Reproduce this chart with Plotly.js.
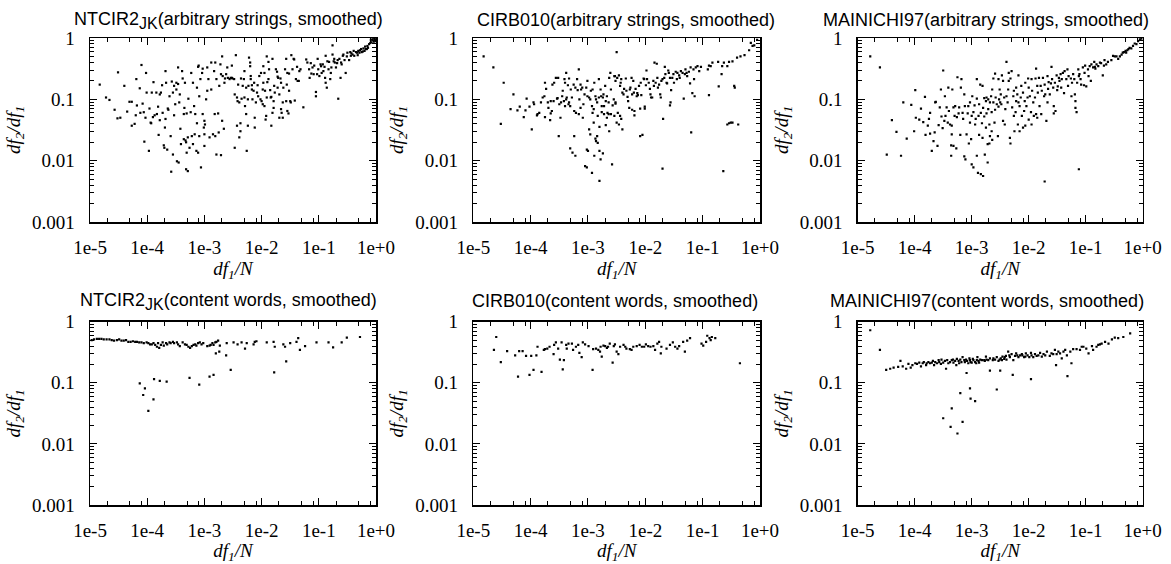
<!DOCTYPE html>
<html><head><meta charset="utf-8">
<script src="https://cdn.plot.ly/plotly-3.0.1.min.js"></script>
<style>html,body{margin:0;padding:0;background:#fff}#chart{width:1171px;height:564px}</style>
</head><body><div id="chart"></div>
<script>
// Values, stored as log10(df1/N) and log10(df2/df1).
const ntcirArbLogX = [
-4.83,-4.72,-4.66,-4.57,-4.51,-4.52,-4.47,-4.40,-4.35,-4.31,
-4.27,-4.27,-4.22,-4.19,-4.20,-4.18,-4.13,-4.12,-4.10,-4.08,
-4.06,-4.05,-4.03,-4.02,-4.01,-3.97,-3.96,-3.94,-3.93,-3.92,
-3.90,-3.89,-3.87,-3.84,-3.83,-3.81,-3.80,-3.78,-3.78,-3.76,
-3.74,-3.73,-3.71,-3.70,-3.69,-3.68,-3.68,-3.67,-3.65,-3.64,
-3.63,-3.61,-3.59,-3.58,-3.57,-3.55,-3.55,-3.53,-3.53,-3.51,
-3.49,-3.49,-3.48,-3.46,-3.46,-3.45,-3.44,-3.43,-3.42,-3.41,
-3.39,-3.38,-3.36,-3.36,-3.35,-3.34,-3.33,-3.32,-3.32,-3.31,
-3.31,-3.29,-3.29,-3.28,-3.26,-3.24,-3.23,-3.22,-3.20,-3.20,
-3.18,-3.17,-3.16,-3.14,-3.13,-3.13,-3.11,-3.11,-3.10,-3.09,
-3.09,-3.07,-3.06,-3.04,-3.03,-3.03,-3.01,-3.00,-3.00,-3.00,
-2.99,-2.97,-2.95,-2.95,-2.93,-2.91,-2.88,-2.88,-2.85,-2.83,
-2.82,-2.81,-2.81,-2.79,-2.79,-2.76,-2.75,-2.74,-2.72,-2.71,
-2.71,-2.69,-2.69,-2.68,-2.66,-2.65,-2.64,-2.62,-2.60,-2.59,
-2.56,-2.54,-2.52,
-2.52,-2.51,-2.48,-2.47,-2.45,-2.43,-2.43,-2.42,-2.41,-2.39,
-2.39,-2.37,-2.37,-2.36,-2.35,-2.47,-2.33,-2.31,-2.30,-2.30,
-2.29,-2.27,-2.27,-2.26,-2.24,-2.24,-2.23,-2.22,-2.20,-2.20,
-2.19,-2.19,-2.17,-2.17,-2.16,-2.14,-2.13,-2.12,-2.12,-2.10,
-2.08,-2.07,-2.06,-2.04,-2.02,-2.01,-2.00,-1.98,-1.98,-1.97,
-1.97,-1.95,-1.95,-1.94,-1.93,-1.92,-1.91,-1.91,-1.90,-1.88,
-1.88,-1.87,-1.85,-1.84,-1.83,-1.83,-1.81,-1.81,-1.79,-1.79,
-1.78,-1.77,-1.75,-1.73,-1.72,-1.72,-1.71,-1.69,-1.69,-1.67,
-1.66,-1.66,-1.65,-1.63,-1.63,-1.62,-1.59,-1.57,-1.57,-1.56,
-1.55,-1.55,-1.53,-1.52,-1.52,-1.50,-1.49,-1.48,-1.46,-1.44,
-1.43,-1.42,-1.40,-1.38,-1.37,-1.35,-1.34,-1.32,-1.27,-1.22,
-1.20,-1.17,-1.16,-1.14,-1.13,-1.11,-1.09,-1.08,-1.05,-1.05,
-1.03,-1.02,-1.01,-0.99,-0.97,-0.96,-0.95,-0.93,-0.92,-0.90,
-0.89,-0.88,-0.88,-0.86,-0.85,-0.83,-0.82,-0.80,-0.79,-0.78,
-0.76,-0.76,-0.74,-0.73,-0.72,-0.70,-0.68,-0.67,-0.66,-0.64,
-0.62,-0.61,-0.60,-0.58,-0.57,-0.55,-0.53,-0.51,-0.50,-0.47,
-0.45,-0.44,-0.43,-0.41,-0.39,-0.38,-0.35,-0.33,-0.32,-0.31,
-0.29,-0.28,-0.26,-0.25,-0.23,-0.22,-0.20,-0.19,-0.18,-0.16,
-0.15,-0.14,-0.12,-0.10,-0.09,-0.06,-0.03,-0.02,-0.01,-0.04,
-0.08];
const ntcirArbLogY = [
-0.76,-0.97,-1.01,-1.17,-0.56,-1.31,-1.30,-0.78,-1.20,-1.04,
-1.04,-1.43,-1.40,-0.67,-1.26,-1.10,-0.82,-1.22,-0.44,-1.07,
-1.21,-1.69,-1.30,-0.57,-0.89,-1.84,-1.15,-1.38,-1.39,-0.89,
-1.29,-0.72,-1.26,-0.89,-1.24,-1.12,-1.58,-0.92,-1.34,-0.89,
-0.77,-1.22,-1.75,-1.79,-1.46,-0.54,-1.32,-0.73,-1.82,-1.15,
-1.17,-0.95,-1.60,-2.18,-0.71,-0.89,-1.90,-1.26,-0.78,-1.08,
-0.84,-0.73,-2.01,-0.48,-0.75,-2.03,-1.05,-0.92,-1.48,-1.73,
-0.54,-0.66,-1.65,-1.24,-1.14,-0.73,-1.67,-1.70,-2.14,-1.23,
-1.87,-2.17,-1.62,-0.99,-1.79,-1.21,-0.57,-1.60,-1.73,-0.73,
-1.11,-1.57,-1.24,-1.84,-0.81,-1.39,-1.87,-0.47,-0.45,-0.95,
-1.60,-0.67,-2.11,-0.57,-0.50,-1.24,-1.46,-1.76,-1.57,-1.35,
-1.41,-1.00,-0.48,-0.86,-0.67,-1.62,-0.40,-0.84,-1.57,-0.54,
-1.24,-0.40,-1.60,-1.90,-0.67,-1.23,-1.54,-0.78,-0.43,-0.59,
-1.91,-0.30,-1.35,-0.62,-1.48,-0.73,-0.66,-0.59,-0.48,-0.65,
-0.67,-0.65,-0.65,
-0.45,-0.66,-0.67,-0.92,-0.28,-0.97,-1.43,-1.03,-0.76,-1.05,
-1.62,-1.39,-1.52,-0.66,-0.99,-1.79,-0.78,-0.67,-0.54,-0.97,
-1.11,-0.81,-1.24,-1.84,-1.43,-1.00,-0.78,-0.32,-0.40,-0.46,
-0.62,-0.67,-0.77,-0.84,-1.00,-0.86,-0.73,-1.30,-1.46,-1.05,
-0.89,-0.77,-0.95,-0.62,-1.00,-0.57,-1.03,-1.08,-0.84,-0.46,
-0.73,-0.57,-1.11,-0.86,-1.33,-1.27,-0.97,-0.30,-0.72,-0.67,
-0.39,-0.51,-0.85,-0.97,-0.96,-1.43,-0.34,-1.22,-1.03,-1.14,
-0.78,-0.89,-0.51,-0.55,-0.81,-0.63,-0.65,-0.92,-1.30,-0.66,
-0.73,-1.16,-1.22,-1.30,-1.05,-0.81,-0.51,-0.34,-1.03,-0.76,
-0.57,-1.19,-1.23,-0.58,-0.86,-1.03,-1.05,-0.28,-0.51,-0.34,
-0.35,-1.02,-0.67,-0.47,-0.70,-0.70,-0.54,-0.51,-1.13,-0.35,
-0.40,-0.51,-0.65,-0.41,-0.58,-0.48,-0.59,-0.45,-0.88,-0.95,
-0.59,-0.34,-0.51,-0.62,-0.43,-0.46,-0.57,-0.43,-0.54,-0.47,
-0.65,-0.73,-0.29,-0.81,-0.38,-0.51,-0.39,-0.67,-0.57,-0.48,
-0.12,-0.27,-0.38,-0.34,-0.40,-0.48,-0.41,-0.36,-0.99,-0.34,
-0.65,-0.40,-0.43,-0.29,-0.27,-0.36,-0.57,-0.30,-0.24,-0.36,
-0.23,-0.29,-0.25,-0.27,-0.21,-0.29,-0.23,-0.24,-0.28,-0.21,
-0.24,-0.20,-0.18,-0.23,-0.22,-0.17,-0.21,-0.14,-0.18,-0.18,
-0.13,-0.16,-0.10,-0.08,-0.03,-0.02,-0.01,-0.02,-0.05,-0.06,
-0.07];

const cirbArbLogX = [
-4.82,-4.65,-4.47,-4.30,-4.52,-4.35,-4.23,-4.19,-4.12,-4.09,
-4.07,-4.02,-3.98,-3.95,-3.94,-3.89,-3.88,-3.85,-3.82,-3.79,
-3.76,-3.75,-3.75,-3.73,-3.70,-3.69,-3.66,-3.65,-3.65,-3.63,
-3.62,-3.60,-3.59,-3.56,-3.54,-3.53,-3.52,-3.51,-3.50,-3.48,
-3.47,-3.45,-3.44,-3.42,-3.41,-3.40,-3.40,-3.38,-3.38,-3.37,
-3.35,-3.34,-3.33,-3.33,-3.31,-3.31,-3.30,-3.28,-3.27,-3.25,
-3.24,-3.24,-3.22,-3.22,-3.21,-3.19,-3.18,-3.16,-3.16,-3.15,
-3.13,-3.13,-3.12,-3.10,-3.09,-3.08,-3.06,-3.05,-3.03,-3.02,
-3.02,-3.01,-3.01,-3.00,-2.98,-2.98,-2.96,-2.96,-2.95,-2.93,
-2.92,-2.92,-2.90,-2.90,-2.89,-2.89,-2.87,-2.87,-2.86,-2.86,
-2.84,-2.84,-2.83,-2.83,-2.81,-2.81,-2.80,-2.80,-2.78,-2.78,
-2.77,-2.76,-2.76,-2.74,-2.74,-2.73,-2.72,-2.72,-2.70,-2.69,
-2.69,-2.67,-2.67,-2.66,-2.64,-2.64,-2.63,-2.63,-2.61,-2.60,
-2.60,-2.58,-2.57,-2.55,-2.54,-2.54,-2.52,-2.93,-2.80,
-2.50,-2.53,-2.52,-2.49,-2.46,-2.44,-2.43,-2.42,-2.40,-2.38,
-2.37,-2.52,-2.48,-2.50,-2.46,-2.44,-2.42,-2.40,-2.34,-2.33,
-2.31,-2.30,-2.28,-2.27,-2.26,-2.24,-2.23,-2.23,-2.21,-2.20,
-2.19,-2.19,-2.17,-2.15,-2.14,-2.13,-2.11,-2.09,-2.09,-2.08,
-2.07,-2.05,-2.03,-2.02,-2.01,-2.01,-1.99,-1.98,-1.97,-1.94,
-1.92,-1.91,-1.90,-1.88,-1.86,-1.85,-1.84,-1.82,-1.80,-1.79,
-1.78,-1.76,-1.74,-1.73,-1.72,-1.70,-1.69,-1.67,-1.66,-1.65,
-1.63,-1.62,-1.60,-1.59,-1.57,-1.57,-1.56,-1.55,-1.53,-1.51,
-1.50,-1.47,-1.45,-1.44,-1.41,-1.40,-1.38,-1.35,-1.33,-1.31,
-1.30,-1.28,-1.27,-1.24,-1.22,-1.21,-1.20,-1.18,-1.16,-1.15,
-1.14,-1.12,-1.09,-1.06,-1.03,-0.91,-0.89,-0.86,-0.83,-0.89,
-0.73,-0.72,-0.67,-0.66,-0.63,-0.57,-0.54,-0.51,-0.48,-0.45,
-0.44,-0.38,-0.57,-0.54,-0.48,-0.40,-0.34,-0.27,-0.19,-0.16,
-0.13,-0.10,-0.05,-1.70,-0.64];
const cirbArbLogY = [
-0.30,-0.48,-0.73,-0.92,-1.40,-1.16,-1.18,-1.12,-1.29,-1.18,
-0.99,-1.12,-1.49,-1.05,-1.08,-1.26,-1.24,-1.22,-1.05,-0.97,
-0.95,-0.73,-1.29,-0.83,-1.05,-1.14,-1.34,-1.03,-1.23,-1.19,
-0.76,-1.03,-0.73,-0.65,-0.99,-0.98,-0.65,-1.60,-1.08,-1.30,
-1.05,-0.95,-0.86,-1.03,-0.67,-0.73,-1.11,-0.57,-1.00,-0.97,
-0.77,-1.08,-0.66,-1.05,-1.11,-1.80,-0.84,-0.97,-1.87,-0.76,
-1.19,-1.60,-0.81,-1.92,-1.22,-0.67,-0.85,-0.51,-1.24,-1.00,
-0.76,-1.14,-0.84,-0.81,-1.30,-1.08,-0.92,-2.09,-0.81,-2.11,
-1.82,-0.95,-0.70,-1.84,-0.97,-1.49,-1.00,-1.57,-0.86,-1.11,
-0.84,-1.22,-1.16,-1.38,-0.73,-1.92,-0.95,-1.64,-1.00,-1.68,
-1.05,-1.60,-1.27,-1.71,-0.67,-0.97,-1.45,-1.84,-0.84,-1.98,
-0.95,-1.11,-1.21,-0.97,-1.88,-0.92,-1.11,-1.24,-0.78,-1.03,
-1.42,-0.95,-1.30,-1.22,-1.05,-1.24,-0.65,-1.52,-0.57,-1.24,
-0.84,-2.06,-1.10,-1.00,-1.27,-0.62,-1.05,-2.20,-2.33,
-0.23,-0.62,-0.70,-0.65,-0.61,-0.78,-0.73,-0.67,-0.89,-0.92,
-0.83,-1.07,-1.22,-1.38,-1.41,-1.27,-1.32,-1.49,-0.66,-0.86,
-0.96,-1.03,-1.14,-0.84,-0.81,-0.65,-0.92,-1.17,-0.70,-0.89,
-1.26,-1.19,-0.83,-0.95,-0.90,-0.93,-0.78,-1.15,-1.60,-0.73,
-0.93,-1.58,-0.66,-0.67,-1.15,-1.12,-0.77,-0.53,-0.67,-0.73,
-0.83,-0.92,-0.97,-0.97,-0.70,-0.78,-0.40,-0.73,-0.42,-0.65,
-0.81,-0.76,-0.92,-0.97,-0.70,-0.67,-1.32,-0.65,-0.47,-0.59,
-0.73,-0.74,-0.53,-0.57,-0.65,-1.10,-1.05,-0.85,-0.65,-0.59,
-0.73,-0.55,-0.67,-0.57,-0.61,-0.65,-0.54,-0.57,-0.99,-0.59,
-0.51,-0.57,-0.62,-0.55,-0.74,-0.48,-1.54,-0.90,-0.51,-0.67,
-0.95,-0.48,-0.46,-0.54,-0.47,-0.51,-0.93,-0.46,-0.40,-0.45,
-0.39,-0.79,-0.59,-0.46,-0.40,-1.41,-1.39,-1.38,-1.38,-0.78,
-0.81,-1.41,-0.46,-0.39,-0.38,-0.32,-0.30,-0.28,-0.20,-0.08,
-0.13,-0.12,-0.03,-2.13,-2.17];

const mainichiArbLogX = [
-4.78,-4.61,-4.49,-4.40,-4.32,-4.24,-4.20,-4.14,-4.06,-4.01,
-3.99,-3.98,-3.92,-3.89,-3.85,-3.82,-3.81,-3.77,-3.75,-3.73,
-3.70,-3.67,-3.65,-3.64,-3.63,-3.60,-3.58,-3.56,-3.54,-3.53,
-3.51,-3.50,-3.48,-3.47,-3.46,-3.44,-3.42,-3.41,-3.40,-3.38,
-3.36,-3.35,-3.34,-3.32,-3.32,-3.30,-3.29,-3.27,-3.26,-3.25,
-3.23,-3.22,-3.20,-3.19,-3.18,-3.16,-3.15,-3.13,-3.13,-3.12,
-3.11,-3.09,-3.07,-3.06,-3.05,-3.03,-3.03,-3.01,-3.00,-3.00,
-2.99,-2.97,-2.97,-2.95,-2.94,-2.93,-2.91,-2.91,-2.89,-2.88,
-2.87,-2.87,-2.85,-2.84,-2.84,-2.82,-2.81,-2.81,-2.80,-2.80,
-2.78,-2.78,-2.77,-2.75,-2.75,-2.74,-2.74,-2.72,-2.72,-2.71,
-2.71,-2.69,-2.69,-2.68,-2.68,-2.66,-2.65,-2.65,-2.64,-2.64,
-2.62,-2.62,-2.60,-2.59,-2.59,-2.58,-2.56,-2.54,-2.53,-2.52,
-2.50,-2.91,-3.35,-3.36,-3.73,
-2.53,-2.51,-2.49,-2.48,-2.47,-2.45,-2.45,-2.43,-2.42,-2.41,
-2.39,-2.39,-2.37,-2.36,-2.35,-2.35,-2.33,-2.32,-2.32,-2.30,
-2.29,-2.27,-2.26,-2.26,-2.25,-2.23,-2.22,-2.22,-2.20,-2.19,
-2.18,-2.18,-2.16,-2.16,-2.14,-2.13,-2.12,-2.10,-2.10,-2.08,
-2.07,-2.06,-2.06,-2.04,-2.02,-2.01,-2.00,-2.00,-1.98,-1.96,
-1.95,-1.95,-1.94,-1.92,-1.91,-1.89,-1.88,-1.87,-1.87,-1.85,
-1.85,-1.84,-1.82,-1.81,-1.79,-1.78,-1.77,-1.75,-1.73,-1.72,
-1.71,-1.69,-1.67,-1.67,-1.66,-1.65,-1.63,-1.61,-1.60,-1.59,
-1.57,-1.56,-1.56,-1.54,-1.53,-1.51,-1.50,-1.49,-1.47,-1.46,
-1.44,-1.43,-1.42,-1.40,-1.38,-1.37,-1.34,-1.32,-1.31,-1.30,
-1.26,-1.25,-1.24,-1.22,-1.20,-1.19,-1.18,-1.18,-1.16,-1.15,
-1.13,-1.12,-1.11,-1.09,-1.08,-1.05,-1.03,-1.02,-1.01,-0.99,
-0.96,-0.95,-0.93,-0.91,-0.90,-0.87,-0.85,-0.84,-0.83,-0.81,
-0.78,-0.75,-0.73,-0.70,-0.68,-0.67,-0.64,-0.61,-0.55,-0.52,
-0.49,-0.46,-0.43,-0.40,-0.37,-0.35,-0.33,-0.30,-0.29,-0.27,
-0.25,-0.23,-0.20,-0.17,-0.14,-0.11,-0.08,-0.05,-0.02,-1.12,
-1.72];
const mainichiArbLogY = [
-0.30,-0.48,-1.90,-1.34,-1.53,-1.92,-1.05,-1.64,-1.09,-1.52,
-0.85,-1.30,-1.33,-1.15,-1.37,-0.96,-1.58,-1.43,-1.32,-1.56,
-1.84,-1.68,-1.54,-1.05,-1.04,-1.76,-1.42,-1.13,-0.84,-1.28,
-1.47,-0.53,-1.35,-0.95,-1.27,-1.13,-1.38,-0.81,-1.19,-1.41,
-1.75,-1.43,-0.84,-1.76,-1.13,-1.27,-1.11,-1.80,-1.29,-0.64,
-1.23,-1.13,-1.58,-0.81,-0.67,-1.22,-1.32,-0.92,-1.93,-1.11,
-1.98,-1.57,-1.23,-1.11,-1.72,-1.05,-1.38,-1.65,-1.27,-2.06,
-0.95,-2.11,-1.21,-1.10,-1.41,-1.32,-0.99,-0.67,-2.20,-1.27,
-1.08,-1.58,-0.76,-2.22,-1.22,-1.39,-0.78,-1.63,-1.14,-2.25,
-0.98,-1.28,-1.90,-1.03,-1.46,-0.97,-1.23,-1.73,-2.03,-1.00,
-1.16,-1.41,-1.72,-1.05,-1.60,-0.95,-1.21,-1.52,-0.84,-1.66,
-1.05,-0.66,-1.38,-1.17,-0.58,-0.97,-1.08,-1.60,-1.12,-1.00,
-1.05,-1.92,-1.57,-1.92,-1.22,
-0.67,-0.84,-0.92,-1.08,-0.61,-0.70,-1.35,-0.97,-1.41,-1.16,
-0.39,-0.95,-1.05,-0.84,-0.70,-0.57,-1.63,-0.66,-1.72,-0.54,
-1.13,-0.95,-1.27,-0.86,-1.52,-1.21,-0.81,-1.03,-0.92,-1.41,
-0.61,-1.05,-1.11,-1.52,-0.97,-0.78,-1.27,-0.89,-1.46,-1.19,
-1.03,-0.73,-1.43,-1.11,-0.97,-0.66,-0.81,-1.33,-0.95,-1.21,
-0.67,-1.41,-0.86,-1.05,-1.27,-0.97,-0.66,-0.50,-1.24,-0.78,
-1.30,-0.89,-0.65,-1.11,-0.78,-1.24,-0.86,-0.65,-0.95,-0.76,
-0.92,-1.35,-1.05,-0.62,-0.83,-0.72,-0.92,-0.74,-0.47,-0.67,
-0.81,-1.23,-1.11,-0.73,-1.19,-0.61,-0.85,-0.79,-0.65,-0.70,
-0.59,-0.81,-0.67,-0.57,-0.90,-0.54,-0.67,-0.51,-0.78,-0.62,
-0.66,-0.95,-0.73,-0.59,-0.67,-0.92,-1.03,-1.14,-1.21,-0.73,
-0.51,-0.62,-0.59,-0.67,-0.76,-0.48,-0.77,-0.57,-0.45,-0.79,
-0.51,-0.62,-0.46,-0.70,-0.43,-0.48,-0.39,-0.47,-0.50,-0.43,
-0.46,-0.40,-0.41,-0.61,-0.45,-0.36,-0.43,-0.39,-0.36,-0.29,
-0.30,-0.30,-0.34,-0.30,-0.27,-0.24,-0.23,-0.21,-0.24,-0.20,
-0.18,-0.16,-0.17,-0.13,-0.09,-0.10,-0.05,-0.02,-0.01,-2.14,
-2.34];

const ntcirContLogX = [
-4.97,-4.93,-4.88,-4.84,-4.80,-4.76,-4.71,-4.66,-4.62,-4.58,
-4.53,-4.49,-4.45,-4.41,-4.37,-4.33,-4.29,-4.25,-4.21,-4.18,
-4.14,-4.10,-4.06,-4.01,-3.98,-3.95,-3.92,-3.89,-3.86,-3.83,
-3.81,-3.79,-3.76,-3.73,-3.71,-3.67,-3.65,-3.61,-3.59,-3.55,
-3.53,-3.48,-3.46,-3.43,-3.38,-3.34,-3.31,-3.28,-3.25,-3.22,
-3.19,-3.16,-3.14,-3.11,-3.08,-3.05,-3.02,-2.95,-2.91,-2.89,
-2.86,-2.81,-2.79,-2.76,-2.73,-2.80,-2.74,-2.62,-2.84,-2.61,
-2.49,-2.42,-2.35,-2.29,-2.26,-2.14,-2.12,-2.09,-1.91,-1.79,
-1.77,-1.62,-1.59,-1.50,-1.39,-1.36,-1.33,-1.24,-1.04,-0.83,
-0.75,-0.60,-0.51,-0.28,
-4.13,-4.07,-4.04,-3.98,-3.89,-3.88,-3.78,-3.66,-3.26,-3.09,
-2.91,-2.84,-2.54,-1.78,-1.57];
const ntcirContLogY = [
-0.30,-0.29,-0.28,-0.28,-0.28,-0.29,-0.29,-0.29,-0.30,-0.31,
-0.30,-0.29,-0.31,-0.31,-0.30,-0.33,-0.33,-0.32,-0.33,-0.33,
-0.34,-0.34,-0.35,-0.34,-0.35,-0.37,-0.37,-0.35,-0.38,-0.41,
-0.35,-0.43,-0.38,-0.34,-0.39,-0.35,-0.37,-0.34,-0.35,-0.33,
-0.35,-0.34,-0.37,-0.40,-0.34,-0.37,-0.38,-0.41,-0.43,-0.40,
-0.38,-0.37,-0.39,-0.35,-0.34,-0.37,-0.35,-0.40,-0.39,-0.38,
-0.35,-0.34,-0.33,-0.31,-0.39,-0.52,-0.49,-0.55,-0.38,-0.35,
-0.34,-0.37,-0.34,-0.44,-0.35,-0.37,-0.33,-0.32,-0.34,-0.33,
-0.41,-0.37,-0.41,-0.35,-0.33,-0.27,-0.46,-0.40,-0.34,-0.34,
-0.42,-0.34,-0.26,-0.25,
-1.01,-1.20,-1.09,-1.46,-1.27,-0.94,-0.97,-0.98,-0.92,-1.03,
-0.90,-0.87,-0.79,-0.83,-0.65];

const cirbContLogX = [
-4.64,-4.60,-4.52,-4.41,-4.27,-4.20,-4.22,-4.14,-4.08,-4.02,
-3.99,-3.95,-3.90,-3.88,-3.81,-3.77,-3.75,-3.71,-3.67,-3.60,
-3.59,-3.56,-3.52,-3.49,-3.46,-3.44,-3.42,-3.38,-3.37,-3.34,
-3.28,-3.26,-3.21,-3.17,-3.15,-3.11,-3.09,-3.05,-2.99,-2.92,
-2.91,-2.86,-2.82,-2.79,-2.78,-2.76,-2.73,-2.70,-2.67,-2.65,
-2.62,-2.57,-2.55,-2.53,-2.50,-2.47,-2.44,-2.38,-2.35,-2.33,
-2.27,-2.24,-2.21,-2.15,-2.10,-2.06,-2.02,-1.99,-1.95,-1.91,
-1.86,-1.83,-1.79,-1.76,-1.73,-1.72,-1.63,-1.57,-1.52,-1.48,
-1.44,-1.41,-1.34,-1.31,-1.27,-1.22,-1.02,-0.99,-0.94,-0.92,
-0.88,-0.86,-0.84,-0.78,-0.35];
const cirbContLogY = [
-0.46,-0.25,-0.66,-0.48,-0.55,-0.48,-0.90,-0.48,-0.56,-0.87,
-0.56,-0.79,-0.55,-0.41,-0.82,-0.46,-0.45,-0.44,-0.41,-0.53,
-0.38,-0.34,-0.44,-0.62,-0.34,-0.78,-0.63,-0.38,-0.44,-0.36,
-0.36,-0.46,-0.41,-0.38,-0.51,-0.58,-0.34,-0.37,-0.40,-0.79,
-0.45,-0.44,-0.46,-0.49,-0.41,-0.57,-0.39,-0.40,-0.43,-0.41,
-0.36,-0.67,-0.40,-0.37,-0.49,-0.53,-0.41,-0.38,-0.41,-0.44,
-0.45,-0.46,-0.41,-0.40,-0.38,-0.41,-0.41,-0.37,-0.40,-0.41,
-0.40,-0.46,-0.36,-0.33,-0.52,-0.41,-0.44,-0.38,-0.34,-0.41,
-0.44,-0.40,-0.33,-0.49,-0.31,-0.27,-0.36,-0.39,-0.33,-0.23,
-0.27,-0.30,-0.25,-0.27,-0.68];

const mainichiContLogX = [
-4.78,-4.61,-4.50,-4.43,-4.37,-4.29,-4.25,-4.21,-4.15,-4.11,
-4.07,-4.04,-3.99,-3.96,-3.92,-3.89,-3.86,-3.84,-3.80,-3.79,
-3.76,-3.73,-3.70,-3.68,-3.66,-3.64,-3.61,-3.58,-3.57,-3.54,
-3.53,-3.50,-3.47,-3.45,-3.43,-3.41,-3.38,-3.35,-3.33,-3.32,
-3.29,-3.27,-3.26,-3.23,-3.22,-3.20,-3.18,-3.16,-3.13,-3.12,
-3.10,-3.08,-3.06,-3.04,-3.03,-3.02,-3.00,-2.98,-2.97,-2.94,
-2.92,-2.91,-2.90,-2.88,-2.87,-2.85,-2.82,-2.78,-2.77,-2.75,
-2.74,-2.71,-2.68,-2.63,-2.62,-2.59,-2.56,-2.53,-2.51,-2.49,
-2.47,-2.46,-2.43,-2.42,-2.40,-2.39,-2.36,-2.34,-2.33,-2.30,
-2.27,-2.24,-2.22,-2.20,-2.18,-2.15,-2.12,-2.11,-2.08,-2.06,
-2.05,-2.02,-1.99,-1.96,-1.95,-1.92,-1.89,-1.86,-1.83,-1.80,
-1.77,-1.74,-1.71,-1.68,-1.63,-1.60,-1.57,-1.54,-1.52,-1.51,
-1.48,-1.45,-1.42,-1.39,-1.36,-1.33,-1.27,-1.25,-1.22,-1.16,
-1.10,-1.07,-1.04,-0.99,-0.95,-0.89,-0.87,-0.81,-0.78,-0.75,
-0.72,-0.66,-0.60,-0.54,-0.49,-0.43,-0.34,-0.22,
-3.50,-3.37,-3.35,-3.20,-3.16,-3.25,-3.03,-3.02,-2.94,-2.56,
-3.09,-2.68,-2.50,-2.28,-1.96,-1.32];
const mainichiContLogY = [
-0.14,-0.46,-0.79,-0.77,-0.75,-0.74,-0.64,-0.73,-0.77,-0.69,
-0.75,-0.71,-0.68,-0.69,-0.67,-0.73,-0.68,-0.66,-0.71,-0.68,
-0.66,-0.68,-0.67,-0.64,-0.71,-0.66,-0.68,-0.63,-0.66,-0.69,
-0.62,-0.67,-0.64,-0.77,-0.63,-0.68,-0.66,-0.63,-0.62,-0.67,
-0.64,-0.71,-0.61,-0.64,-0.68,-0.62,-0.66,-0.58,-0.63,-0.66,
-0.62,-0.64,-0.68,-0.60,-0.63,-0.66,-0.67,-0.61,-0.63,-0.66,
-0.68,-0.63,-0.58,-0.64,-0.67,-0.62,-0.63,-0.63,-0.64,-0.57,
-0.62,-0.63,-0.60,-0.63,-0.60,-0.62,-0.58,-0.64,-0.62,-0.60,
-0.63,-0.57,-0.61,-0.58,-0.56,-0.62,-0.49,-0.55,-0.58,-0.53,
-0.63,-0.56,-0.52,-0.55,-0.58,-0.55,-0.53,-0.55,-0.58,-0.57,
-0.52,-0.55,-0.58,-0.51,-0.55,-0.58,-0.53,-0.56,-0.55,-0.51,
-0.57,-0.53,-0.55,-0.49,-0.56,-0.52,-0.53,-0.46,-0.71,-0.53,
-0.49,-0.52,-0.60,-0.49,-0.46,-0.55,-0.49,-0.68,-0.45,-0.45,
-0.46,-0.41,-0.41,-0.44,-0.52,-0.40,-0.46,-0.41,-0.38,-0.37,
-0.36,-0.33,-0.36,-0.29,-0.26,-0.27,-0.25,-0.19,
-1.58,-1.72,-1.42,-1.17,-1.64,-1.83,-1.09,-1.26,-1.30,-1.11,
-0.84,-0.80,-0.80,-0.87,-0.94,-0.89];

const panelTitles = [
  'NTCIR2<sub><span style="font-size:16px">JK</span></sub>(arbitrary strings, smoothed)',
  'CIRB010(arbitrary strings, smoothed)',
  'MAINICHI97(arbitrary strings, smoothed)',
  'NTCIR2<sub><span style="font-size:16px">JK</span></sub>(content words, smoothed)',
  'CIRB010(content words, smoothed)',
  'MAINICHI97(content words, smoothed)'
];
const xTickVals = [1e-5, 1e-4, 1e-3, 1e-2, 1e-1, 1];
const xTickText = ['1e-5', '1e-4', '1e-3', '1e-2', '1e-1', '1e+0'];
const yTickVals = [0.001, 0.01, 0.1, 1];
const yTickText = ['0.001', '0.01', '0.1', '1'];
const xTitle = '<i>df<sub>1</sub>/N</i>';
const yTitle = '<i>df<sub>2</sub>/df<sub>1</sub></i>';

const series = [
  [ntcirArbLogX, ntcirArbLogY], [cirbArbLogX, cirbArbLogY], [mainichiArbLogX, mainichiArbLogY],
  [ntcirContLogX, ntcirContLogY], [cirbContLogX, cirbContLogY], [mainichiContLogX, mainichiContLogY]
];

// ---- layout / styling ----
const W = 1171, H = 564;
const colPx = [[90, 376], [473.3, 760], [857.7, 1142.7]];
const rowPx = [[38, 222], [321.7, 505]];
const titlePx = [[228, 20], [626, 20], [986, 20], [228, 301], [615, 301], [987, 301]];

const xMinor = [], yMinor = [];
for (let d = -5; d < 0; d++) [2, 5, 8].forEach(m => xMinor.push(m * Math.pow(10, d)));
for (let d = -3; d < 0; d++) for (let m = 2; m <= 9; m++) yMinor.push(m * Math.pow(10, d));

const serif = '"Liberation Serif", "Times New Roman", Times, serif';
const sans = '"Liberation Sans", Arial, Helvetica, sans-serif';
const toVal = a => a.map(v => Math.pow(10, v));

const traces = [];
const layout = {
  width: W, height: H,
  margin: {l: 0, r: 0, t: 0, b: 0},
  paper_bgcolor: '#fff', plot_bgcolor: '#fff',
  showlegend: false,
  annotations: []
};

series.forEach((s, i) => {
  const sfx = i === 0 ? '' : String(i + 1);
  traces.push({
    type: 'scatter', mode: 'markers',
    x: toVal(s[0]), y: toVal(s[1]),
    xaxis: 'x' + sfx, yaxis: 'y' + sfx,
    marker: {symbol: 'square', size: 2.2, color: '#000', line: {width: 0}},
    hoverinfo: 'skip'
  });
  const c = colPx[i % 3], r = rowPx[Math.floor(i / 3)];
  const common = {
    type: 'log', showline: true, linecolor: '#000', linewidth: 1.5, mirror: 'allticks',
    ticks: 'inside', ticklen: 7, tickwidth: 1, tickcolor: '#000',
    tickmode: 'array', showgrid: false, zeroline: false, fixedrange: true,
    tickfont: {family: serif, size: 19, color: '#000'}
  };
  layout['xaxis' + sfx] = Object.assign({}, common, {
    domain: [c[0] / W, c[1] / W], anchor: 'y' + sfx, range: [-5, 0],
    tickvals: xTickVals, ticktext: xTickText, ticklabelstandoff: 8,
    minor: {tickmode: 'array', tickvals: xMinor, ticks: 'inside', ticklen: 4, tickwidth: 1, tickcolor: '#000', showgrid: false},
    title: {text: xTitle, font: {family: serif, size: 19, color: '#000'}, standoff: 0}
  });
  layout['yaxis' + sfx] = Object.assign({}, common, {
    domain: [1 - r[1] / H, 1 - r[0] / H], anchor: 'x' + sfx, range: [-3, 0],
    tickvals: yTickVals, ticktext: yTickText, ticklabelstandoff: 10,
    minor: {tickmode: 'array', tickvals: yMinor, ticks: 'inside', ticklen: 4, tickwidth: 1, tickcolor: '#000', showgrid: false},
    title: {text: yTitle, font: {family: serif, size: 19, color: '#000'}, standoff: 6}
  });
  layout.annotations.push({
    text: panelTitles[i], xref: 'paper', yref: 'paper',
    x: titlePx[i][0] / W, y: 1 - titlePx[i][1] / H,
    xanchor: 'center', yanchor: 'middle', showarrow: false,
    font: {family: sans, size: 18, color: '#000'}
  });
});

Plotly.newPlot('chart', traces, layout, {staticPlot: true, displayModeBar: false});
</script>
</body></html>
